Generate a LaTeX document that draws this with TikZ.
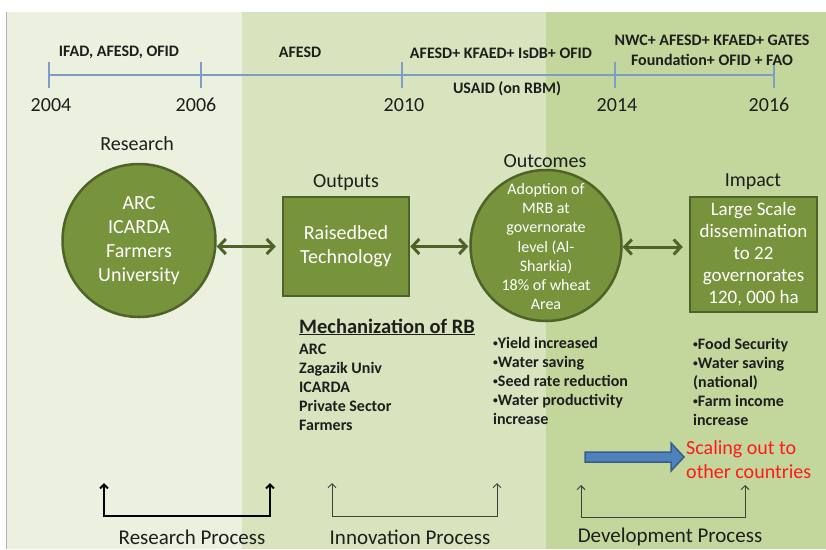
\documentclass[tikz,border=0pt]{standalone}
\usepackage{fontspec}
\usepackage{graphicx}
\setmainfont{Carlito}
\usetikzlibrary{arrows.meta}
\definecolor{panelA}{HTML}{EBF1DE}
\definecolor{panelB}{HTML}{D7E4BD}
\definecolor{panelC}{HTML}{C3D69B}
\definecolor{olive}{HTML}{77933C}
\definecolor{oliveDark}{HTML}{4F6228}
\definecolor{tline}{HTML}{7E9CC8}
\definecolor{blueFill}{HTML}{4F81BD}
\definecolor{blueEdge}{HTML}{385D8A}
\definecolor{ink}{HTML}{1E1E1E}
\definecolor{redtxt}{HTML}{FF1A1A}
\newcommand{\mybul}{\raisebox{0.28ex}{\scalebox{0.6}{•}}}
\tikzset{
  yearlbl/.style={font=\fontsize{20}{24}\selectfont, text=ink, inner sep=0pt},
  fundlbl/.style={font=\bfseries\fontsize{16}{20}\selectfont, text=ink, align=center, inner sep=0pt},
  headlbl/.style={font=\fontsize{20}{24}\selectfont, text=ink, inner sep=0pt},
  bigcircle/.style={circle, fill=olive, draw=oliveDark, line width=2.5pt, inner sep=0pt},
  bigbox/.style={rectangle, fill=olive, draw=oliveDark, line width=2.5pt, inner sep=0pt,
     text=white, align=center},
  inside/.style={text=white, align=center, inner sep=0pt},
  link/.style={draw=oliveDark, line width=3pt,
     {Straight Barb[length=7pt,width=15pt]}-{Straight Barb[length=7pt,width=15pt]}},
  listtxt/.style={font=\bfseries\fontsize{16}{19}\selectfont, text=ink, align=left, inner sep=0pt},
  procbold/.style={draw=black, line width=2pt,
     {Straight Barb[length=4pt,width=8pt]}-{Straight Barb[length=4pt,width=8pt]}},
  procthin/.style={draw=ink!85, line width=0.9pt,
     {Straight Barb[length=4pt,width=8pt]}-{Straight Barb[length=4pt,width=8pt]}},
  proclbl/.style={font=\fontsize{21}{24}\selectfont, text=ink, inner sep=0pt},
  tick/.style={draw=tline, line width=1.2pt}
}
\begin{document}
\begin{tikzpicture}[x=1pt,y=-1pt]
\useasboundingbox (0,0) rectangle (826,549);
% background panels
\fill[white] (0,0) rectangle (826,549);
\fill[panelA] (6,12) rectangle (242,549);
\fill[panelB] (242,12) rectangle (546,549);
\fill[panelC] (546,12) rectangle (826,549);
\draw[gray!60, line width=1pt] (6.5,12) -- (6.5,549);

% timeline
\coordinate (t04) at (49,75);
\coordinate (t06) at (201,75);
\coordinate (t10) at (402,75);
\coordinate (t14) at (615,75);
\coordinate (t16) at (774,75);
\draw[tick] (t04) -- (t16);
\foreach \t in {t04,t06,t10,t14,t16}{
  \draw[tick] ([yshift=13pt]\t) -- ([yshift=-13pt]\t);
}
\node[yearlbl] (y04) at (51,105) {2004};
\node[yearlbl] (y06) at (196,105) {2006};
\node[yearlbl] (y10) at (404,105) {2010};
\node[yearlbl] (y14) at (617,105) {2014};
\node[yearlbl] (y16) at (769,105) {2016};

\node[fundlbl] (f1) at (119,52) {IFAD, AFESD, OFID};
\node[fundlbl] (f2) at (300,52) {AFESD};
\node[fundlbl] (f3) at (501,53) {AFESD+ KFAED+ IsDB+ OFID};
\node[fundlbl] (f4) at (507,89) {USAID (on RBM)};
\node[fundlbl] (f5) at (712,50) {NWC+ AFESD+ KFAED+ GATES\\Foundation+ OFID + FAO};

% headings
\node[headlbl] (hres) at (137,144) {Research};
\node[headlbl] (hout) at (346,183) {Outputs};
\node[headlbl] (hocm) at (545,161) {Outcomes};
\node[headlbl] (himp) at (753,182) {Impact};

% main shapes
\node[bigcircle, minimum size=153pt] (rc) at (139,240.5) {};
\node[inside, font=\fontsize{20}{24}\selectfont] (rct) at (rc.center) {ARC\\ICARDA\\Farmers\\University};
\node[bigbox, minimum width=126pt, minimum height=99pt, font=\fontsize{20}{24}\selectfont] (rb) at (346,246.5) {Raisedbed\\Technology};
\node[bigcircle, minimum size=151pt] (oc) at (546,245.5) {};
\node[inside, font=\fontsize{16}{19.2}\selectfont] (oct) at (546,246.5) {Adoption of\\MRB at\\governorate\\level (Al-\\Sharkia)\\18\% of wheat\\Area};
\node[bigbox, minimum width=127pt, minimum height=115pt, font=\fontsize{19}{22}\selectfont] (ib) at (753.5,254.5) {Large Scale\\dissemination\\to 22\\governorates\\120, 000 ha};

% double arrows
\draw[link] (rc.east |- rb.west) -- ([xshift=-6pt]rb.west);
\draw[link] (rb.east) -- ([xshift=-1pt]oc.west |- rb.east);
\draw[link] ([yshift=-1.5pt]oc.east) -- ([xshift=-6pt,yshift=-1.5pt]oc.east -| ib.west);

% lists
\node[font=\bfseries\fontsize{20.5}{24}\selectfont, text=ink, anchor=west, inner sep=0pt] (mt) at (299,327) {\underline{Mechanization of RB}};
\node[listtxt, anchor=north west] (ml) at (299,344) {ARC\\Zagazik Univ\\ICARDA\\Private Sector\\Farmers};
\node[listtxt, anchor=north west] (ol) at (493,337) {\mybul Yield increased\\\mybul Water saving\\\mybul Seed rate reduction\\\mybul Water productivity\\increase};
\node[listtxt, anchor=north west] (il) at (693,338) {\mybul Food Security\\\mybul Water saving\\(national)\\\mybul Farm income\\increase};

% scaling out
\node[font=\fontsize{20}{24}\selectfont, text=redtxt, align=left, anchor=north west, inner sep=0pt] (so) at (686,440) {Scaling out to\\other countries};
\draw[fill=blueFill, draw=blueEdge, line width=1.5pt]
  (585,452) -- (671,452) -- (671,443) -- (684,457) -- (671,471) -- (671,462) -- (585,462) -- cycle;

% process brackets
\coordinate (ra) at (104,483); \coordinate (rb1) at (104,516);
\coordinate (rc1) at (270,516); \coordinate (rd) at (270,483);
\draw[procbold] (ra) -- (rb1) -- (rc1) -- (rd);
\coordinate (ia) at (332,483); \coordinate (ib1) at (332,516);
\coordinate (ic) at (497,516); \coordinate (id) at (497,483);
\draw[procthin] (ia) -- (ib1) -- (ic) -- (id);
\coordinate (da) at (581,485); \coordinate (db) at (581,517);
\coordinate (dc) at (745,517); \coordinate (dd) at (745,485);
\draw[procthin] (da) -- (db) -- (dc) -- (dd);

\node[proclbl] (pr) at (192,537) {Research Process};
\node[proclbl] (pi) at (410,537) {Innovation Process};
\node[proclbl] (pd) at (670,537) {Development Process};
\end{tikzpicture}
\end{document}
